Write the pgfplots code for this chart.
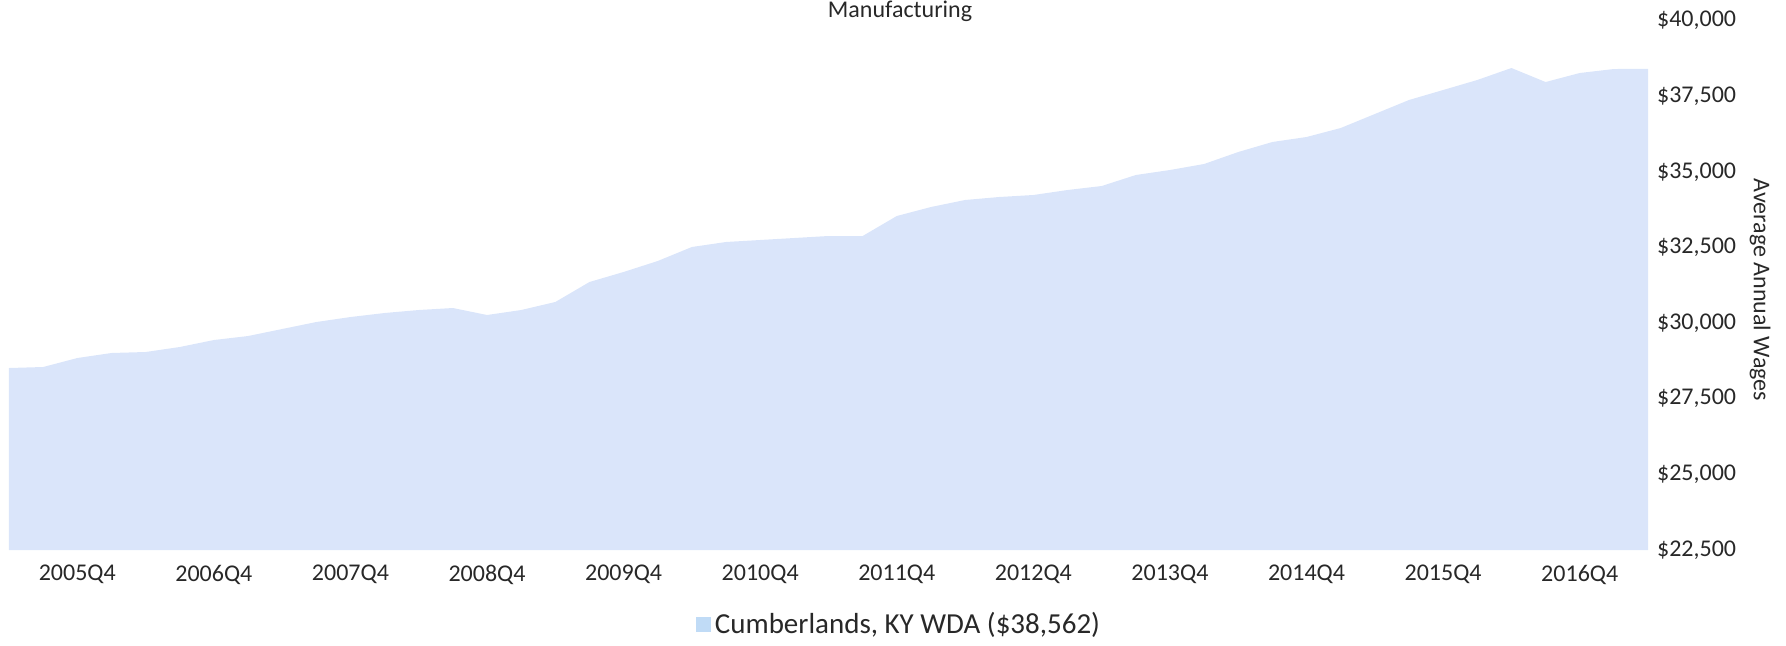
\documentclass[border=0pt]{standalone}
\usepackage{pgfplots}
\pgfplotsset{compat=1.18}
\usepackage{fontspec}
\setmainfont{Carlito}
\definecolor{areablue}{RGB}{218,229,250}
\definecolor{legblue}{RGB}{192,219,246}
\definecolor{txt}{RGB}{40,40,40}
\begin{document}
\begin{tikzpicture}
\useasboundingbox (-4.5pt,-47.5pt) rectangle (888.5pt,275pt);
\begin{axis}[
  scale only axis,
  width=819.5pt, height=264.75pt,
  xmin=2005.25, xmax=2017.25,
  ymin=22500, ymax=40000,
  scaled y ticks=false,
  axis line style={draw=none},
  major tick length=0pt,
  tick style={draw=none},
  xtick={2005.75,2006.75,2007.75,2008.75,2009.75,2010.75,2011.75,2012.75,2013.75,2014.75,2015.75,2016.75},
  xticklabels={2005Q4,2006Q4,2007Q4,2008Q4,2009Q4,2010Q4,2011Q4,2012Q4,2013Q4,2014Q4,2015Q4,2016Q4},
  ytick={22500,25000,27500,30000,32500,35000,37500,40000},
  yticklabels={{\$22,500},{\$25,000},{\$27,500},{\$30,000},{\$32,500},{\$35,000},{\$37,500},{\$40,000}},
  yticklabel pos=right,
  yticklabel style={anchor=west, xshift=1pt, font=\fontsize{12}{14}\selectfont, text=txt},
  xticklabel style={yshift=-4pt, font=\fontsize{12}{14}\selectfont, text=txt},
  legend style={at={(0.5436,-0.1398)}, anchor=center, draw=none, fill=none,
    font=\fontsize{14.5}{17}\selectfont, text=txt, inner sep=0pt},
  legend image code/.code={\fill[legblue] (0pt,-3.75pt) rectangle (7.5pt,3.75pt);},
  clip=true,
]
\addplot[fill=areablue, draw=none] table {
x y
2005.25 28515
2005.50 28548
2005.75 28845
2006.00 29011
2006.25 29044
2006.50 29209
2006.75 29440
2007.00 29572
2007.25 29804
2007.50 30035
2007.75 30200
2008.00 30333
2008.25 30432
2008.50 30498
2008.75 30267
2009.00 30432
2009.25 30697
2009.50 31358
2009.75 31689
2010.00 32052
2010.25 32515
2010.50 32680
2010.75 32746
2011.00 32812
2011.25 32878
2011.50 32878
2011.75 33539
2012.00 33836
2012.25 34068
2012.50 34167
2012.75 34233
2013.00 34398
2013.25 34530
2013.50 34894
2013.75 35059
2014.00 35258
2014.25 35654
2014.50 35985
2014.75 36150
2015.00 36447
2015.25 36910
2015.50 37373
2015.75 37703
2016.00 38034
2016.25 38430
2016.50 37967
2016.75 38265
2017.00 38397
2017.25 38400
} \closedcycle;
\addlegendentry{Cumberlands, KY WDA (\$38,562)}
\end{axis}
\node[anchor=base, text=txt, font=\fontsize{12}{14}\selectfont] at (445.5pt,266.5pt) {Manufacturing};
\node[rotate=-90, text=txt, font=\fontsize{12}{14}\selectfont] at (875.5pt,130pt) {Average Annual Wages};
\end{tikzpicture}
\end{document}
